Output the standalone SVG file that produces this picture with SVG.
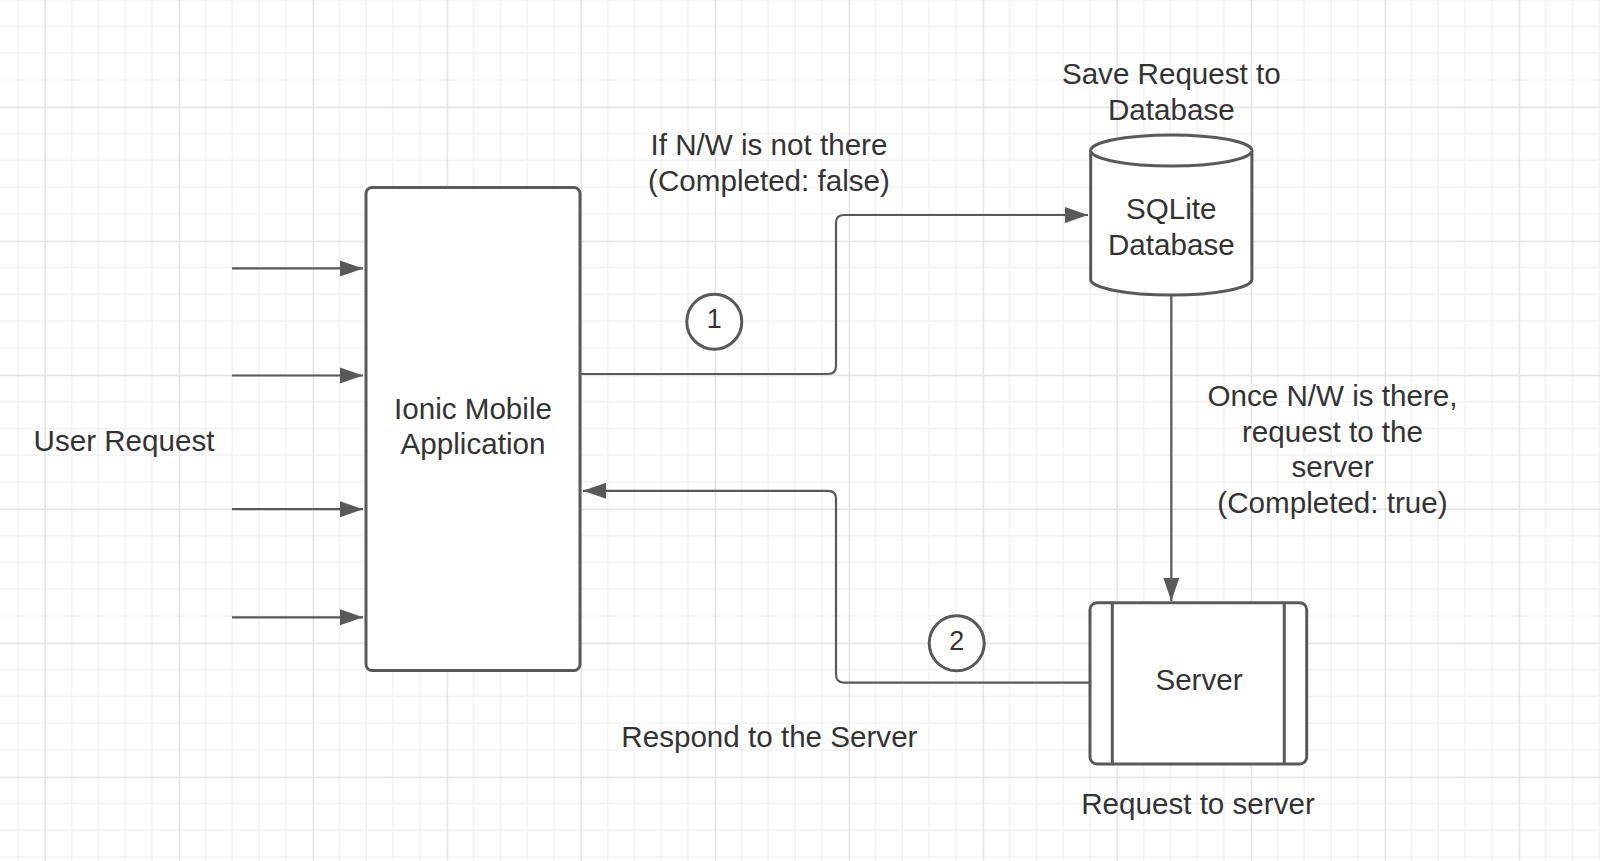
<svg xmlns="http://www.w3.org/2000/svg" width="1600" height="861" viewBox="0 0 1600 861">
<defs>
<pattern id="grid" patternUnits="userSpaceOnUse" x="44.7" y="106.7" width="134" height="134">
<path d="M26.8,0V134M53.6,0V134M80.4,0V134M107.2,0V134M0,26.8H134M0,53.6H134M0,80.4H134M0,107.2H134" stroke="#efefef" stroke-width="1.2" fill="none"/>
<path d="M0.6,0V134M0,0.6H134" stroke="#dddddd" stroke-width="1.2" fill="none"/>
</pattern>
<marker id="arr" markerUnits="userSpaceOnUse" markerWidth="24" markerHeight="18" viewBox="0 0 24 18" refX="23" refY="9" orient="auto">
<path d="M0,1 L23,9 L0,17 Z" fill="#595959"/>
</marker>
</defs>
<style>
.shape{fill:#ffffff;stroke:#595959;stroke-width:3}
.conn{fill:none;stroke:#595959;stroke-width:2.2;marker-end:url(#arr)}
.t{font-family:"Liberation Sans",Arial,sans-serif;font-size:29.6px;fill:#333333;text-anchor:middle}
.n{font-family:"Liberation Sans",Arial,sans-serif;font-size:27px;fill:#333333;text-anchor:middle}
</style>
<rect width="1600" height="861" fill="#ffffff"/>
<rect width="1600" height="861" fill="url(#grid)"/>

<g id="connectors">
<path class="conn" d="M232,268.4H363"/>
<path class="conn" d="M232,375.5H363"/>
<path class="conn" d="M232,509.2H363"/>
<path class="conn" d="M232,617.3H363"/>
<path class="conn" d="M581,374H828Q836,374 836,366V223Q836,215 844,215H1088"/>
<path class="conn" d="M1171.3,295V601"/>
<path class="conn" d="M1090,682.6H844Q836,682.6 836,674.6V498.8Q836,490.8 828,490.8H583"/>
</g>

<g id="ionic-app">
<rect class="shape" x="366" y="187.5" width="214" height="483" rx="6"/>
<text class="t" x="473" y="418.5">Ionic Mobile</text>
<text class="t" x="473" y="454.2">Application</text>
</g>

<g id="sqlite-db">
<path class="shape" d="M1090.7,150.5V279.5A80.6,15.5 0 0 0 1251.9,279.5V150.5A80.6,15.5 0 0 0 1090.7,150.5Z"/>
<path class="shape" fill="none" d="M1090.7,150.5A80.6,15.5 0 0 0 1251.9,150.5"/>
<text class="t" x="1171.3" y="218.8">SQLite</text>
<text class="t" x="1171.3" y="254.5">Database</text>
</g>

<g id="server">
<rect class="shape" x="1090" y="602.7" width="216.7" height="161.3" rx="7"/>
<path d="M1112.3,602.7V764M1284.3,602.7V764" stroke="#595959" stroke-width="3" fill="none"/>
<text class="t" x="1199" y="690">Server</text>
</g>

<g id="step1">
<circle class="shape" cx="714.3" cy="321.7" r="27.5"/>
<text class="n" x="714.3" y="328">1</text>
</g>

<g id="step2">
<circle class="shape" cx="956.7" cy="643.3" r="27.5"/>
<text class="n" x="956.7" y="650">2</text>
</g>

<g id="labels">
<text class="t" x="1171.3" y="84.3">Save Request to</text>
<text class="t" x="1171.3" y="120">Database</text>
<text class="t" x="769" y="155.3">If N/W is not there</text>
<text class="t" x="769" y="191">(Completed: false)</text>
<text class="t" x="124" y="451">User Request</text>
<text class="t" x="1332.5" y="406">Once N/W is there,</text>
<text class="t" x="1332.5" y="441.7">request to the</text>
<text class="t" x="1332.5" y="477.4">server</text>
<text class="t" x="1332.5" y="513.1">(Completed: true)</text>
<text class="t" x="769.4" y="747">Respond to the Server</text>
<text class="t" x="1198" y="814">Request to server</text>
</g>
</svg>
